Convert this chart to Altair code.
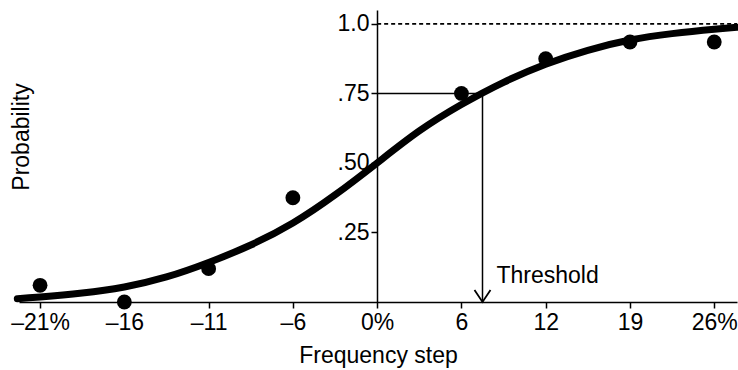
import altair as alt
import pandas as pd

# Tick labels (evenly spaced positions 0..8)
x_labels = ["–21%", "–16", "–11", "–6", "0%", "6", "12", "19", "26%"]
x_ticks = list(range(len(x_labels)))

# Observed data points
obs_idx = [0, 1, 2, 3, 5, 6, 7, 8]
obs_p = [0.06, 0.0, 0.12, 0.375, 0.75, 0.875, 0.935, 0.935]

# Fitted curve
curve_idx = [-0.27, 0, 0.5, 1, 1.5, 2, 2.5, 3, 3.5, 4, 4.5, 5, 5.5, 6, 6.5, 7, 7.5, 8, 8.27]
curve_p = [0.012, 0.018, 0.032, 0.054, 0.09, 0.142, 0.205, 0.284, 0.385, 0.50, 0.615, 0.71,
           0.79, 0.855, 0.905, 0.942, 0.965, 0.981, 0.988]

# y ticks
y_ticks = [0.25, 0.5, 0.75, 1.0]
y_tick_labels = [".25", ".50", ".75", "1.0"]

threshold_idx = 5.25
threshold_p = 0.75
x_min, x_max = -0.25, 8.27
y_max = 1.05

FONT = "Liberation Sans"
FS = 23

xs = alt.Scale(domain=[x_min, x_max], nice=False, zero=False)
ys = alt.Scale(domain=[0, y_max], nice=False, zero=False)

x_label_expr = "[" + ",".join(f"'{l}'" for l in x_labels) + "][datum.value]"
y_label_expr = "".join(
    f"datum.value == {v} ? '{l}' : " for v, l in zip(y_ticks, y_tick_labels)
) + "''"

curve_df = pd.DataFrame({"x": curve_idx, "p": curve_p})
obs_df = pd.DataFrame({"x": obs_idx, "p": obs_p})

base_x = alt.X(
    "x:Q",
    scale=xs,
    axis=alt.Axis(
        values=x_ticks,
        labelExpr=x_label_expr,
        title="Frequency step",
        grid=False,
        domainColor="black",
        domainWidth=1.5,
        tickColor="black",
        tickWidth=1.5,
        tickSize=6,
        labelFont=FONT,
        labelFontSize=FS,
        labelColor="black",
        labelPadding=3,
        labelFlush=False,
        titleFont=FONT,
        titleFontSize=FS,
        titleFontWeight="normal",
        titleColor="black",
        titlePadding=10,
    ),
)
base_y = alt.Y(
    "p:Q",
    scale=ys,
    axis=alt.Axis(
        values=y_ticks,
        labelExpr=y_label_expr,
        title=None,
        grid=False,
        offset=-358,
        domainColor="black",
        domainWidth=1.5,
        tickColor="black",
        tickWidth=1.5,
        tickSize=6,
        labelFont=FONT,
        labelFontSize=FS,
        labelColor="black",
        labelPadding=2,
    ),
)

curve = alt.Chart(curve_df).mark_line(
    color="black", strokeWidth=7, interpolate="natural", strokeCap="round", clip=False
).encode(x=base_x, y=base_y)

points = alt.Chart(obs_df).mark_circle(color="black", opacity=1, size=220).encode(
    x=alt.X("x:Q", scale=xs), y=alt.Y("p:Q", scale=ys)
)

ref_df = pd.DataFrame({"x": [x_ticks[4]], "x2": [x_max], "p": [1.0]})
dashed = alt.Chart(ref_df).mark_rule(color="black", strokeWidth=1.6, strokeDash=[4, 3]).encode(
    x=alt.X("x:Q", scale=xs), x2="x2:Q", y=alt.Y("p:Q", scale=ys)
)

th_h_df = pd.DataFrame({"x": [x_ticks[4]], "x2": [threshold_idx], "p": [threshold_p]})
th_h = alt.Chart(th_h_df).mark_rule(color="black", strokeWidth=1.5).encode(
    x=alt.X("x:Q", scale=xs), x2="x2:Q", y=alt.Y("p:Q", scale=ys)
)
th_v_df = pd.DataFrame({"x": [threshold_idx], "p": [0.0], "p2": [threshold_p]})
th_v = alt.Chart(th_v_df).mark_rule(color="black", strokeWidth=1.5).encode(
    x=alt.X("x:Q", scale=xs), y=alt.Y("p:Q", scale=ys), y2="p2:Q"
)
arrow = alt.Chart(th_v_df).mark_point(
    shape="M-1,-1.5L0,0L1,-1.5", filled=False, stroke="black", strokeWidth=1.8,
    size=256, opacity=1
).encode(x=alt.X("x:Q", scale=xs), y=alt.Y("p:Q", scale=ys))

th_text = alt.Chart(th_v_df).mark_text(
    text="Threshold", align="left", baseline="alphabetic", dx=14, dy=-19,
    font=FONT, fontSize=FS, color="black"
).encode(x=alt.X("x:Q", scale=xs), y=alt.Y("p:Q", scale=ys))

y_title = alt.Chart(th_v_df).mark_text(
    text="Probability", angle=270, align="center", baseline="middle",
    font=FONT, fontSize=FS, color="black"
).encode(x=alt.value(3), y=alt.value(127))

chart = alt.layer(curve, dashed, th_h, th_v, arrow, points, th_text, y_title).properties(
    width=718,
    height=292,
    autosize=alt.AutoSizeParams(type="none"),
    padding={"left": 19, "top": 10, "right": 1, "bottom": 68},
).configure_view(stroke=None)

chart.save("out.html", embed_options={"renderer": "svg", "actions": False})
